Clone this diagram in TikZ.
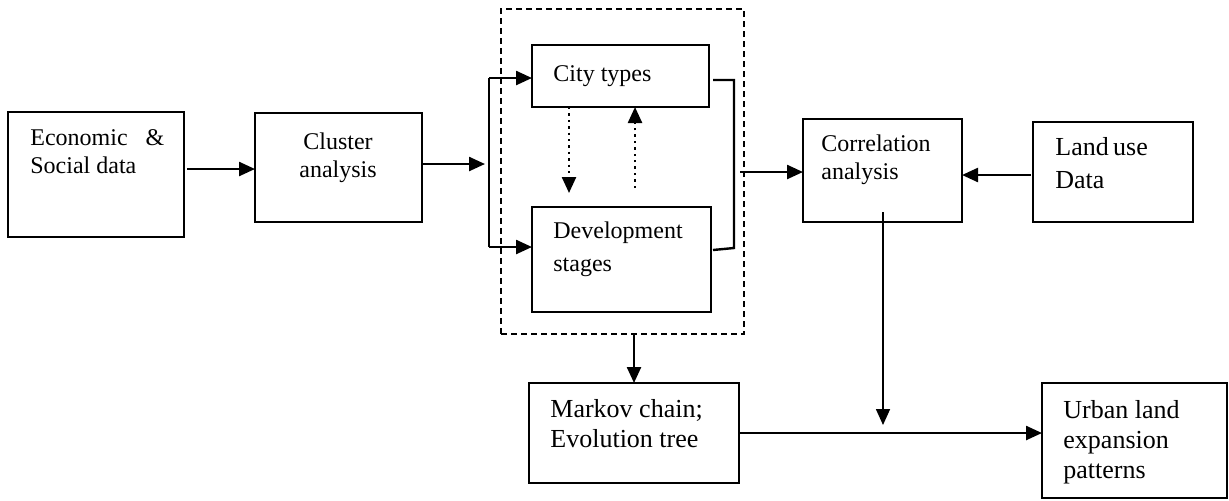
\documentclass[tikz,border=0pt]{standalone}
\usepackage{fontspec}
\setmainfont{Liberation Serif}
\usepackage{tikz}
\usetikzlibrary{arrows.meta}

\begin{document}
\begin{tikzpicture}[x=0.5pt, y=-0.5pt]%
  \tikzset{normal arrow/.style={draw,-{Triangle[length=8pt,width=7pt]},line width=1.2pt,black}}
  \tikzset{dot arrow/.style={normal arrow,dotted}}
  \tikzset{plain line/.style={draw,line width=1.2pt,black}}
  \tikzset{box/.style={draw, rectangle, line width=1.3pt, inner sep=0pt, outer sep=0pt}}
  \tikzset{txt/.style={inner sep=0pt, anchor=north west, align=left, font=\fontsize{12pt}{14pt}\selectfont}}
  \useasboundingbox (0,0) rectangle (1229,500);

  \node[box, minimum width=88pt, minimum height=62.5pt] at (96,174.5) (econ) {};
  \node[box, minimum width=83.5pt, minimum height=54.5pt] at (338.5,167.5) (cluster) {};
  \node[box, minimum width=121.5pt, minimum height=162.5pt, dashed, dash pattern=on 3pt off 2pt] at (622.5,171.5) (stages) {};
  \node[box, minimum width=88.5pt, minimum height=31pt] at (620.5,76) (city) {};
  \node[box, minimum width=89.5pt, minimum height=52.5pt] at (621.5,259.5) (dev) {};
  \node[box, minimum width=79.5pt, minimum height=51.5pt] at (882.5,170.5) (corr) {};
  \node[box, minimum width=80pt, minimum height=50pt] at (1113,172) (land) {};
  \node[box, minimum width=105pt, minimum height=50pt] at (634,433) (markov) {};
  \node[box, minimum width=92.5pt, minimum height=57.5pt] at (1134.5,440.5) (urban) {};

  \node[txt] at (30,129) (econtxt) {Economic\hspace{9pt}\&\\Social data};
  \node[txt, anchor=north, align=center] at (338,132) (clustertxt) {Cluster\\analysis};
  \node[txt] at (553,65) (citytxt) {City types};
  \node[txt, font=\fontsize{12pt}{16.5pt}\selectfont] at (553,221) (devtxt) {Development\\stages};
  \node[txt] at (821,134) (corrtxt) {Correlation\\analysis};
  \node[txt, font=\fontsize{13pt}{16.5pt}\selectfont] at (1055,137) (landtxt) {Land\,use\\Data};
  \node[txt, font=\fontsize{13pt}{15pt}\selectfont] at (550,399) (markovtxt) {Markov chain;\\Evolution tree};
  \node[txt, font=\fontsize{13pt}{15pt}\selectfont] at (1063,400) (urbantxt) {Urban land\\expansion\\patterns};

  \coordinate (split) at (489,164);
  \coordinate (splittop) at (489,78);
  \coordinate (splitbot) at (489,247);
  \coordinate (cdown) at (569,193);
  \coordinate (cup) at (635,188);
  \coordinate (brtop) at (734,80);
  \coordinate (brbot) at (734,248);
  \coordinate (merge) at (740,172);
  \coordinate (landin) at (1031,175);
  \coordinate (join) at (883,425);

  \path[normal arrow] ([xshift=1.5pt]econ.east |- 0,169) -- (cluster.west |- 0,169);
  \path[normal arrow] (cluster.east |- split) -- ([xshift=-2pt]split);
  \path[plain line] (splittop) -- (splitbot);
  \path[normal arrow] (splittop) -- (city.west |- splittop);
  \path[normal arrow] (splitbot) -- (dev.west |- splitbot);
  \path[dot arrow] (city.south -| cdown) -- (cdown);
  \path[dot arrow] (cup) -- (city.south -| cup);
  \path[plain line] ([xshift=2pt]city.east |- brtop) -- (brtop) -- (brbot) -- ([xshift=1pt]dev.east |- 0,250);
  \path[normal arrow] (merge) -- (corr.west |- merge);
  \path[normal arrow] (landin) -- (corr.east |- landin);
  \path[normal arrow] (stages.south -| markov.north) -- (markov.north);
  \path[normal arrow, line width=0.8pt] ([yshift=5pt]corr.south -| join) -- (join);
  \path[normal arrow] (markov.east) -- (urban.west |- markov.east);
\end{tikzpicture}
\end{document}
